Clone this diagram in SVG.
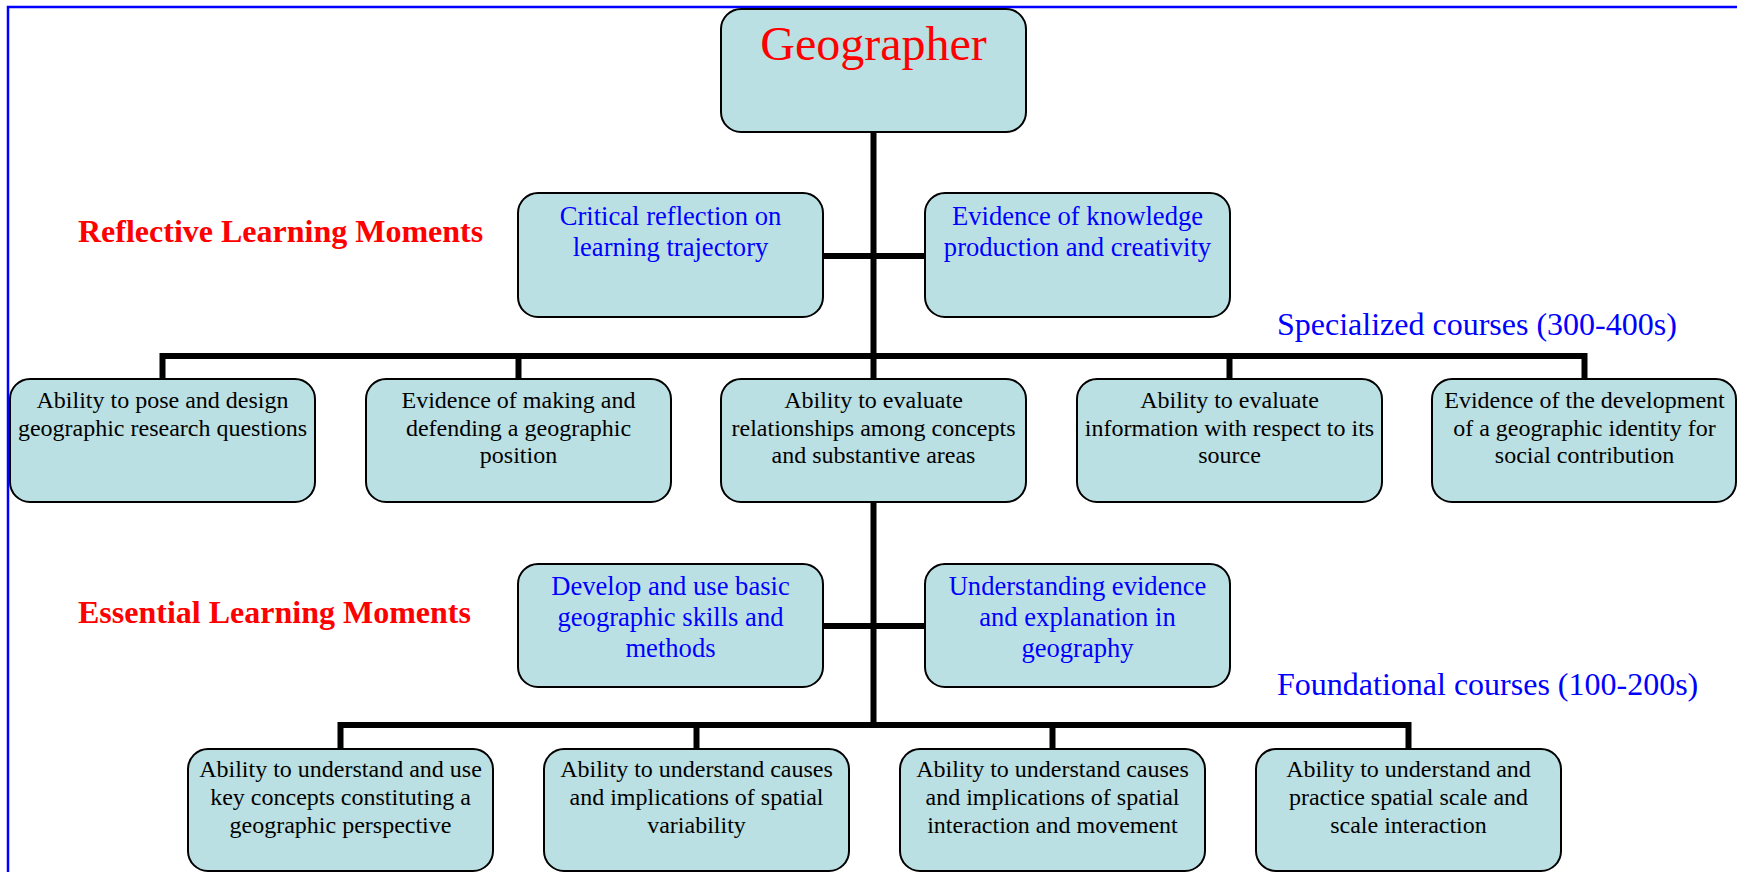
<svg xmlns="http://www.w3.org/2000/svg" width="1737" height="872" viewBox="0 0 1737 872">
<style>
  text { font-family: "Liberation Serif", "Times New Roman", serif; text-anchor: middle; }
  .box { fill: #BBE0E3; stroke: #000; stroke-width: 2; }
  .wire { fill: none; stroke: #000; stroke-width: 6; stroke-linejoin: miter; stroke-linecap: butt; }
  .blk { fill: #000; font-size: 24px; }
  .blu { fill: #0000FF; font-size: 26.6px; }
  .lbl { fill: #FF0000; font-size: 32px; font-weight: bold; text-anchor: start; }
  .crs { fill: #0000FF; font-size: 32px; text-anchor: start; }
</style>
<rect x="0" y="0" width="1737" height="872" fill="#FFFFFF"/>
<path d="M8 872 V7 H1737" fill="none" stroke="#0000FF" stroke-width="2.5"/>

<g id="connectors">
  <path class="wire" d="M873.5 132 V379"/>
  <path class="wire" d="M873.5 502 V728"/>
  <path class="wire" d="M822 256 H925"/>
  <path class="wire" d="M822 626 H925"/>
  <path class="wire" d="M162.5 379 V356 H1584.5 V379"/>
  <path class="wire" d="M518.5 356 V379"/>
  <path class="wire" d="M1229.5 356 V379"/>
  <path class="wire" d="M340.5 749 V725 H1408.5 V749"/>
  <path class="wire" d="M696.5 725 V749"/>
  <path class="wire" d="M1052.5 725 V749"/>
</g>

<g id="geographer">
  <rect class="box" x="721" y="9" width="305" height="123" rx="20"/>
  <text x="873.5" y="60" style="fill:#FF0000;font-size:48px">Geographer</text>
</g>

<g id="critical-reflection">
  <rect class="box" x="518" y="193" width="305" height="124" rx="20"/>
  <text class="blu" x="670.5" y="225">Critical reflection on</text>
  <text class="blu" x="670.5" y="256">learning trajectory</text>
</g>
<g id="knowledge-production">
  <rect class="box" x="925" y="193" width="305" height="124" rx="20"/>
  <text class="blu" x="1077.5" y="225">Evidence of knowledge</text>
  <text class="blu" x="1077.5" y="256">production and creativity</text>
</g>

<g id="pose-questions">
  <rect class="box" x="10" y="379" width="305" height="123" rx="20"/>
  <text class="blk" x="162.5" y="408">Ability to pose and design</text>
  <text class="blk" x="162.5" y="435.5">geographic research questions</text>
</g>
<g id="geographic-position">
  <rect class="box" x="366" y="379" width="305" height="123" rx="20"/>
  <text class="blk" x="518.5" y="408">Evidence of making and</text>
  <text class="blk" x="518.5" y="435.5">defending a geographic</text>
  <text class="blk" x="518.5" y="463">position</text>
</g>
<g id="evaluate-relationships">
  <rect class="box" x="721" y="379" width="305" height="123" rx="20"/>
  <text class="blk" x="873.5" y="408">Ability to evaluate</text>
  <text class="blk" x="873.5" y="435.5">relationships among concepts</text>
  <text class="blk" x="873.5" y="463">and substantive areas</text>
</g>
<g id="evaluate-information">
  <rect class="box" x="1077" y="379" width="305" height="123" rx="20"/>
  <text class="blk" x="1229.5" y="408">Ability to evaluate</text>
  <text class="blk" x="1229.5" y="435.5">information with respect to its</text>
  <text class="blk" x="1229.5" y="463">source</text>
</g>
<g id="geographic-identity">
  <rect class="box" x="1432" y="379" width="304" height="123" rx="20"/>
  <text class="blk" x="1584.5" y="408">Evidence of the development</text>
  <text class="blk" x="1584.5" y="435.5">of a geographic identity for</text>
  <text class="blk" x="1584.5" y="463">social contribution</text>
</g>

<g id="basic-skills">
  <rect class="box" x="518" y="564" width="305" height="123" rx="20"/>
  <text class="blu" x="670.5" y="595">Develop and use basic</text>
  <text class="blu" x="670.5" y="626">geographic skills and</text>
  <text class="blu" x="670.5" y="657">methods</text>
</g>
<g id="evidence-explanation">
  <rect class="box" x="925" y="564" width="305" height="123" rx="20"/>
  <text class="blu" x="1077.5" y="595">Understanding evidence</text>
  <text class="blu" x="1077.5" y="626">and explanation in</text>
  <text class="blu" x="1077.5" y="657">geography</text>
</g>

<g id="key-concepts">
  <rect class="box" x="188" y="749" width="305" height="122" rx="20"/>
  <text class="blk" x="340.5" y="777">Ability to understand and use</text>
  <text class="blk" x="340.5" y="805">key concepts constituting a</text>
  <text class="blk" x="340.5" y="833">geographic perspective</text>
</g>
<g id="spatial-variability">
  <rect class="box" x="544" y="749" width="305" height="122" rx="20"/>
  <text class="blk" x="696.5" y="777">Ability to understand causes</text>
  <text class="blk" x="696.5" y="805">and implications of spatial</text>
  <text class="blk" x="696.5" y="833">variability</text>
</g>
<g id="spatial-interaction">
  <rect class="box" x="900" y="749" width="305" height="122" rx="20"/>
  <text class="blk" x="1052.5" y="777">Ability to understand causes</text>
  <text class="blk" x="1052.5" y="805">and implications of spatial</text>
  <text class="blk" x="1052.5" y="833">interaction and movement</text>
</g>
<g id="spatial-scale">
  <rect class="box" x="1256" y="749" width="305" height="122" rx="20"/>
  <text class="blk" x="1408.5" y="777">Ability to understand and</text>
  <text class="blk" x="1408.5" y="805">practice spatial scale and</text>
  <text class="blk" x="1408.5" y="833">scale interaction</text>
</g>

<g id="labels">
  <text class="lbl" x="78" y="242">Reflective Learning Moments</text>
  <text class="lbl" x="78" y="623">Essential Learning Moments</text>
  <text class="crs" x="1277" y="335">Specialized courses (300-400s)</text>
  <text class="crs" x="1277" y="695">Foundational courses (100-200s)</text>
</g>
</svg>
